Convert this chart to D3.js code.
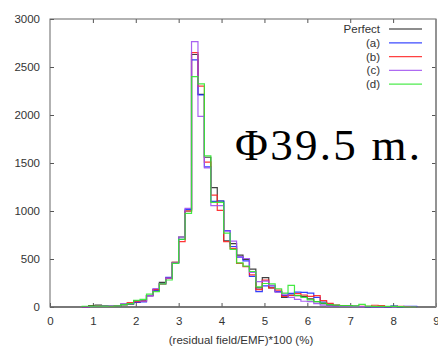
<!DOCTYPE html>
<html><head><meta charset="utf-8">
<script src="https://cdn.jsdelivr.net/npm/d3@7/dist/d3.min.js"></script>
<style>body{margin:0;background:#fff}</style>
</head><body><svg id="c" width="438" height="347"></svg>
<script>
const binStarts=[0.75,0.9,1.05,1.2,1.35,1.5,1.65,1.8,1.95,2.1,2.25,2.4,2.55,2.7,2.85,3.0,3.15,3.3,3.45,3.6,3.75,3.9,4.05,4.2,4.35,4.5,4.65,4.8,4.95,5.1,5.25,5.4,5.55,5.7,5.85,6.0,6.15,6.3,6.45,6.6,6.75,6.9,7.05,7.2,7.35,7.5,7.65,7.8,7.95,8.1,8.25,8.4];
const binWidth=0.15;
const perfect=[0,15,20,12,8,15,22,30,50,65,120,180,257,299,465,729,1000,2630,2215,1560,1243,1104,690,660,540,495,395,200,306,200,160,100,125,118,110,85,55,35,20,15,10,12,8,5,4,3,3,2,8,0,0,0];
const seriesA=[0,5,8,8,8,15,31,35,49,53,115,174,240,309,460,705,1017,2575,2210,1460,1100,1104,795,630,520,480,320,160,220,220,160,120,142,155,152,145,100,50,30,18,12,8,6,5,4,3,3,3,10,4,8,8];
const seriesB=[0,8,10,8,8,15,28,45,55,60,118,180,240,299,465,680,1000,2650,2300,1510,1165,1007,680,610,455,420,335,180,280,200,175,110,120,140,125,110,118,66,38,21,15,10,8,8,6,18,15,5,5,8,4,0];
const seriesC=[0,5,8,10,13,13,31,35,66,60,118,191,245,300,460,729,1028,2765,1985,1450,1055,1055,790,687,525,505,360,265,270,225,155,135,100,80,60,55,35,20,10,8,5,5,4,3,3,2,2,2,2,0,0,0];
const seriesD=[8,10,10,10,8,12,25,35,70,80,135,160,240,281,455,705,976,2400,2325,1575,1090,1090,770,600,460,425,370,210,245,240,190,145,225,120,100,75,55,40,25,20,15,15,12,28,10,7,7,7,7,3,0,0];
const seriesNames=["Perfect","(a)","(b)","(c)","(d)"];
const seriesColors=["#000000","#1a2cff","#ff2020","#a050f0","#30e830"];
const xTicks=[0,1,2,3,4,5,6,7,8,9];
const yTicks=[0,500,1000,1500,2000,2500,3000];
const xLabel="(residual field/EMF)*100 (%)";
const annotation="Φ39.5 m.";

const all=[perfect,seriesA,seriesB,seriesC,seriesD];
const svg=d3.select("#c");
const L=50,R=436,T=19,B=307;
const x=d3.scaleLinear().domain([0,9]).range([L,R]);
const y=d3.scaleLinear().domain([0,3000]).range([B,T]);
const font="'Liberation Sans',Arial,sans-serif";
const tc="#333";

// axes
const ax=svg.append("g").attr("transform",`translate(0,${B})`).call(d3.axisBottom(x).tickValues(xTicks).tickFormat(d3.format("d")).tickSize(-4).tickPadding(10));
const ay=svg.append("g").attr("transform",`translate(${L},0)`).call(d3.axisLeft(y).tickValues(yTicks).tickFormat(d3.format("d")).tickSize(-4).tickPadding(10));
const at=svg.append("g").attr("transform",`translate(0,${T})`).call(d3.axisTop(x).tickValues(xTicks.slice(1,-1)).tickSize(-4).tickFormat(""));
const ar=svg.append("g").attr("transform",`translate(${R},0)`).call(d3.axisRight(y).tickValues(yTicks.slice(1,-1)).tickSize(-4).tickFormat(""));
[ax,ay,at,ar].forEach(g=>{g.select(".domain").remove();g.selectAll("line").attr("stroke","#555");g.selectAll("text").attr("fill",tc).attr("font-family",font).attr("font-size","11.5px");});
svg.append("rect").attr("x",L).attr("y",T).attr("width",R-L).attr("height",B-T).attr("fill","none").attr("stroke","#666").attr("stroke-width",1);
svg.append("line").attr("x1",L).attr("x2",R).attr("y1",B).attr("y2",B).attr("stroke","#666").attr("stroke-width",1.5);
svg.append("line").attr("x1",R).attr("x2",R).attr("y1",T).attr("y2",B).attr("stroke","#888").attr("stroke-width",1.5);

svg.append("text").attr("x",(L+R)/2-2).attr("y",344).attr("text-anchor","middle").attr("fill",tc).attr("font-family",font).attr("font-size","11.5px").text(xLabel);

// histogram steps
const line=d3.line().x(d=>x(d[0])).y(d=>y(d[1])).curve(d3.curveStepAfter);
all.forEach((vals,si)=>{
  const pts=[[binStarts[0],0]];
  vals.forEach((v,i)=>pts.push([binStarts[i],v]));
  const n=binStarts.length;
  pts.push([binStarts[n-1]+binWidth,vals[n-1]]);
  pts.push([binStarts[n-1]+binWidth,0]);
  svg.append("path").attr("d",line(pts)).attr("fill","none").attr("stroke",seriesColors[si]).attr("stroke-width",1.2).attr("stroke-opacity",si===0?0.75:0.9);
});

// legend
seriesNames.forEach((nm,i)=>{
  const yy=29+i*13.8;
  svg.append("text").attr("x",380).attr("y",yy+4).attr("text-anchor","end").attr("fill",tc).attr("font-family",font).attr("font-size","11.5px").text(nm);
  svg.append("line").attr("x1",389).attr("x2",422).attr("y1",yy).attr("y2",yy).attr("stroke",seriesColors[i]).attr("stroke-width",1.3).attr("stroke-opacity",i===0?0.6:0.85);
});

svg.append("text").attr("x",235).attr("y",160).attr("font-family","'Liberation Serif','Times New Roman',serif").attr("font-size","45px").attr("fill","#000").attr("textLength",185).attr("lengthAdjust","spacing").text(annotation);
</script></body></html>
